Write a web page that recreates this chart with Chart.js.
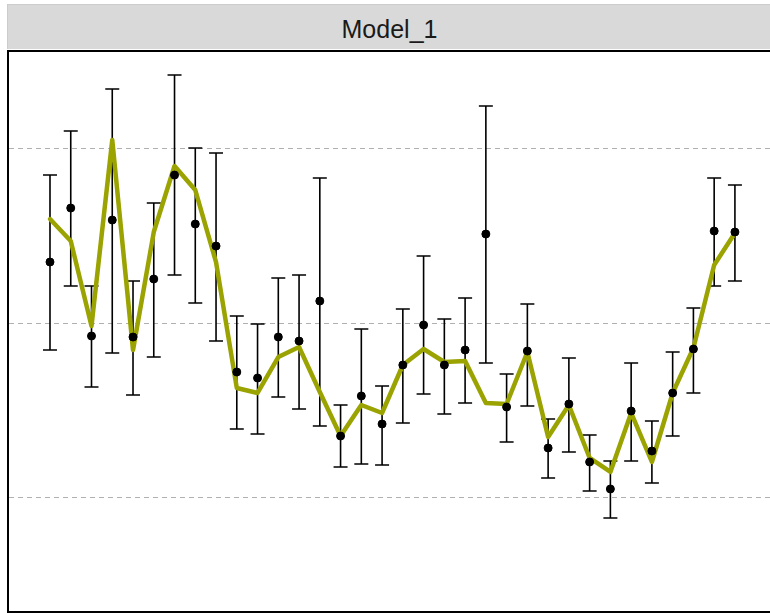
<!DOCTYPE html>
<html><head><meta charset="utf-8">
<script src="https://cdn.jsdelivr.net/npm/chart.js"></script>
<style>
body{margin:0;width:770px;height:613px;background:#fff;font-family:"Liberation Sans",Arial,sans-serif;position:relative;overflow:hidden}
#hdr{position:absolute;left:7px;top:4px;width:763px;height:44px;background:#d9d9d9;border:1px solid #ccc;border-bottom:none;text-align:center;line-height:48px;font-size:25px;color:#1a1a1a}
#box{position:absolute;left:7px;top:50px;width:761px;height:559px;border:2px solid #000;border-right:none}
canvas{display:block}
</style></head><body>
<div id="hdr">Model_1</div>
<div id="box"><canvas id="c" width="761" height="559" style="width:761px;height:559px"></canvas></div>
<script>
const px2v = y => (498 - y) / 175;
const categories = Array.from({length:34},(_,i)=>i);
const pointY = [262,208,336,220,337,279,175,224,246,372,378,337,341,301,436,396,424,365,325,365,350,234,407,351,448,404,462,489,411,451,393,349,231,232].map(px2v);
const errTop = [175,131,286,89,281,203,75,148,153,316,324,278,275,178,405,329,386,309,256,319,298,106,374,304,419,358,435,461,363,421,352,308,178,185].map(px2v);
const errBot = [350,286,387,353,395,357,275,303,341,429,434,397,409,426,467,464,465,423,394,414,403,363,442,406,478,452,491,518,461,483,436,393,286,281].map(px2v);
const lineY = [219,241,326,140,350,232,166,190,262,388,393,357,347,392,436,405,413,365,349,362,361,403,404,352,437,405,458,472,413,462,393,348,265,233].map(px2v);
const gridVals = [0,1,2];

const errPlugin = {id:'err', beforeDatasetsDraw(ch){
  const {ctx,scales:{x,y}} = ch;
  ctx.save(); ctx.strokeStyle='#000'; ctx.lineWidth=1.6;
  categories.forEach((c,i)=>{
    const xp=x.getPixelForValue(c), t=y.getPixelForValue(errTop[i]), b=y.getPixelForValue(errBot[i]);
    ctx.beginPath(); ctx.moveTo(xp,t); ctx.lineTo(xp,b);
    ctx.moveTo(xp-7,t); ctx.lineTo(xp+7,t); ctx.moveTo(xp-7,b); ctx.lineTo(xp+7,b); ctx.stroke();
  });
  ctx.restore();
}};

new Chart(document.getElementById('c'),{
  type:'scatter',
  data:{datasets:[
    {type:'line',data:categories.map((c,i)=>({x:c,y:lineY[i]})),borderColor:'#9aa300',borderWidth:4.5,borderJoinStyle:'round',borderCapStyle:'round',pointRadius:0,tension:0,order:2},
    {data:categories.map((c,i)=>({x:c,y:pointY[i]})),backgroundColor:'#000',borderColor:'#000',pointRadius:4,order:1}
  ]},
  options:{responsive:false,animation:false,devicePixelRatio:1,
    layout:{padding:0,autoPadding:false},
    plugins:{legend:{display:false},tooltip:{enabled:false}},
    scales:{
      x:{type:'linear',min:-1.975,max:34.69,display:false},
      y:{min:-0.646,max:2.549,afterBuildTicks:a=>{a.ticks=gridVals.map(v=>({value:v}))},
         afterFit:a=>{a.width=0},
         ticks:{display:false},
         grid:{color:'#b0b0b0',lineWidth:1,drawTicks:false,tickLength:0},
         border:{display:false,dash:[5,4]}}
    }
  },
  plugins:[errPlugin]
});
</script>
</body></html>
